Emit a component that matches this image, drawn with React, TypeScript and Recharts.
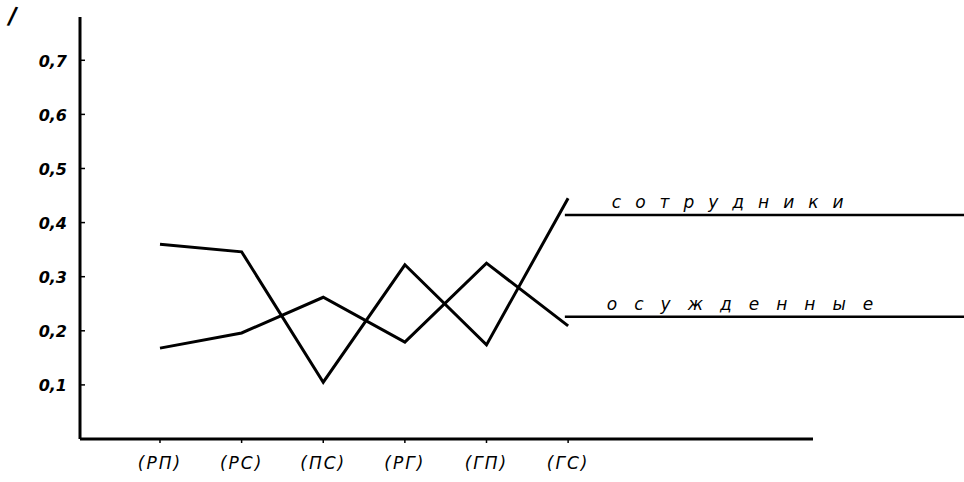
import React from 'react';
import { LineChart, Line, XAxis, YAxis, ReferenceLine } from 'recharts';

// categories along the bottom axis
const categories = ['(РП)', '(РС)', '(ПС)', '(РГ)', '(ГП)', '(ГС)'];
// series values
const staffValues = [0.36, 0.346, 0.105, 0.322, 0.174, 0.445];
const convictValues = [0.168, 0.196, 0.262, 0.179, 0.325, 0.209];
const seriesNames = ['сотрудники', 'осужденные'];
// where the leader lines for the two series names sit
const nameLevels = [0.414, 0.226];
const yTicks = [0.1, 0.2, 0.3, 0.4, 0.5, 0.6, 0.7];

const data = categories.map((name, i) => ({
    x: i,
    name,
    staff: staffValues[i],
    convicts: convictValues[i],
}));

const INK = '#000';
const HAND = '"DejaVu Sans", sans-serif';

function YTick(props: any) {
    const { x, y, payload } = props;
    return (
        <g>
            <line x1={x} x2={x + 5} y1={y} y2={y} stroke={INK} strokeWidth={1.5} />
            <text
                x={x - 13}
                y={y + 2}
                textAnchor="end"
                dominantBaseline="middle"
                fontFamily={HAND}
                fontStyle="italic"
                fontWeight="bold"
                fontSize={16}
                fill={INK}
            >
                {String(payload.value).replace('.', ',')}
            </text>
        </g>
    );
}

function XTick(props: any) {
    const { x, y, payload } = props;
    return (
        <g>
            <line x1={x} x2={x} y1={y} y2={y + 4} stroke={INK} strokeWidth={1.5} />
            <text
                x={x}
                y={y + 25}
                textAnchor="middle"
                dominantBaseline="middle"
                fontFamily={HAND}
                fontStyle="italic"
                fontSize={17}
                letterSpacing={2}
                fill={INK}
            >
                {categories[payload.value]}
            </text>
        </g>
    );
}

const nameLabel = (text: string, dx: number, spacing: number) => (props: any) => {
    const vb = props.viewBox;
    return (
        <text
            x={vb.x + dx}
            y={vb.y - 7}
            fontFamily={HAND}
            fontStyle="italic"
            fontSize={17}
            letterSpacing={spacing}
            fill={INK}
        >
            {text}
        </text>
    );
};

export default function App() {
    return (
        <div style={{ position: 'absolute', left: 0, top: 0, width: 964, height: 482, background: '#fff' }}>
            <span
                style={{
                    position: 'absolute',
                    left: 8,
                    top: 2,
                    fontFamily: HAND,
                    fontWeight: 'bold',
                    fontSize: 24,
                    transform: 'rotate(8deg)',
                }}
            >
                /
            </span>
            <LineChart width={964} height={482} data={data} margin={{ top: 17, right: 0, bottom: 0, left: 0 }}>
                <XAxis
                    type="number"
                    dataKey="x"
                    domain={[-0.98, 9.85]}
                    ticks={[0, 1, 2, 3, 4, 5]}
                    allowDataOverflow
                    axisLine={false}
                    tickLine={false}
                    tickSize={0}
                    tickMargin={0}
                    height={43}
                    tick={<XTick />}
                />
                <YAxis
                    type="number"
                    domain={[0, 0.78]}
                    ticks={yTicks}
                    width={80}
                    axisLine={{ stroke: INK, strokeWidth: 3 }}
                    tickLine={false}
                    tickSize={0}
                    tickMargin={0}
                    tick={<YTick />}
                />
                <ReferenceLine
                    segment={[{ x: -0.98, y: 0 }, { x: 8, y: 0 }]}
                    stroke={INK}
                    strokeWidth={3}
                />
                <ReferenceLine
                    segment={[{ x: 4.96, y: nameLevels[0] }, { x: 9.85, y: nameLevels[0] }]}
                    stroke={INK}
                    strokeWidth={2.5}
                    label={nameLabel(seriesNames[0], 47, 14)}
                />
                <ReferenceLine
                    segment={[{ x: 4.96, y: nameLevels[1] }, { x: 9.85, y: nameLevels[1] }]}
                    stroke={INK}
                    strokeWidth={2.5}
                    label={nameLabel(seriesNames[1], 42, 17)}
                />
                <Line
                    dataKey="staff"
                    name={seriesNames[0]}
                    stroke={INK}
                    strokeWidth={3}
                    strokeLinejoin="miter"
                    dot={false}
                    isAnimationActive={false}
                />
                <Line
                    dataKey="convicts"
                    name={seriesNames[1]}
                    stroke={INK}
                    strokeWidth={3}
                    strokeLinejoin="miter"
                    dot={false}
                    isAnimationActive={false}
                />
            </LineChart>
        </div>
    );
}
